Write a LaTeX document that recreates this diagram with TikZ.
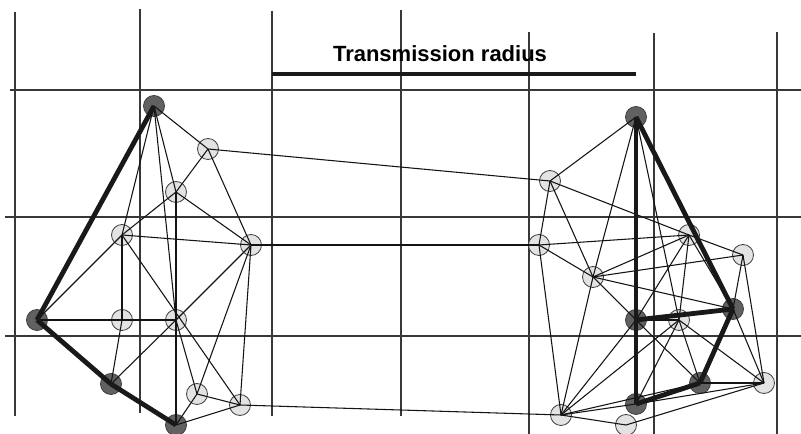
\documentclass[tikz,border=0pt]{standalone}
\usepackage{fontspec}
\setmainfont{Liberation Sans}
\begin{document}
\begin{tikzpicture}[x=0.75pt,y=-0.75pt,
  gridline/.style={draw=black!78, line width=0.95pt},
  lnode/.style={circle, draw=black!75, line width=0.6pt, fill=black!11, minimum size=15.75pt, inner sep=0pt},
  dnode/.style={circle, draw=black!75, line width=0.6pt, fill=black!62, minimum size=15.75pt, inner sep=0pt},
  link/.style={draw=black!92, line width=0.8pt},
  backbone/.style={draw=black!90, line width=3.6pt},
  radiusbar/.style={draw=black!90, line width=3.5pt},
]
\fill[white] (0,0) rectangle (801,434);
\path[use as bounding box] (0,0) rectangle (801,434);

% grid
\draw[gridline] (15,12) -- (15,416);
\draw[gridline] (140,9) -- (140,413);
\draw[gridline] (272,11) -- (272,416);
\draw[gridline] (401,10) -- (401,416);
\draw[gridline] (529,32) -- (529,434);
\draw[gridline] (654,33) -- (654,434);
\draw[gridline] (777,32) -- (777,434);
\draw[gridline] (10,90) -- (801,90);
\draw[gridline] (5,217) -- (801,217);
\draw[gridline] (5,336) -- (801,336);

% title
\node[font=\bfseries\fontsize{16.5}{18}\selectfont, anchor=base, inner sep=0pt] (title) at (440,61.5) {Transmission radius};
\coordinate (barL) at (272,74);
\coordinate (barR) at (636,74);
\draw[radiusbar] (barL) -- (barR);

% left cluster nodes
\node[dnode] (A) at (154,106) {};
\node[lnode] (B) at (208,149) {};
\node[lnode] (C) at (176,192) {};
\node[lnode] (D) at (122,235) {};
\node[lnode] (E) at (251,245) {};
\node[dnode] (F) at (37,320) {};
\node[lnode] (G) at (122,320) {};
\node[lnode] (H) at (176,320) {};
\node[dnode] (I) at (111,384) {};
\node[lnode] (J) at (197,394) {};
\node[lnode] (K) at (240,405) {};
\node[dnode] (L) at (176,425) {};

% right cluster nodes
\node[dnode] (R1) at (636,117) {};
\node[lnode] (R2) at (550,181) {};
\node[lnode] (R3) at (689,235) {};
\node[lnode] (R4) at (539,245) {};
\node[lnode] (R5) at (743,255) {};
\node[lnode] (R6) at (593,277) {};
\node[dnode] (R7) at (733,309) {};
\node[dnode] (R8) at (636,320) {};
\node[lnode] (R9) at (679,320) {};
\node[dnode] (R10) at (700,383) {};
\node[lnode] (R11) at (764,383) {};
\node[dnode] (R12) at (636,404) {};
\node[lnode] (R13) at (561,415) {};
\node[lnode] (R14) at (626,425) {};

% left thin links
\foreach \a/\b in {A/B,A/C,A/D,A/H,B/C,B/E,C/D,C/E,C/H,D/E,D/G,D/F,D/K,F/G,G/H,G/I,I/H,H/E,H/L,H/J,E/J,E/K,J/K,J/L,K/L}
  \draw[link] (\a.center) -- (\b.center);
% bridges
\draw[link] (B.center) -- (R2.center);
\draw[link] (E.center) -- (R4.center);
\draw[link] (K.center) -- (R13.center);

% right thin links
\foreach \a/\b in {R1/R2,R1/R6,R1/R9,R2/R4,R2/R6,R2/R3,R3/R5,R3/R4,R3/R6,R3/R8,R3/R9,R3/R7,R4/R6,R4/R13,R6/R5,R6/R7,R6/R8,R6/R13,R8/R9,R8/R10,R8/R13,R9/R13,R9/R12,R9/R10,R9/R11,R7/R5,R7/R11,R5/R11,R10/R11,R13/R12,R13/R10,R12/R11,R13/R14,R14/R11}
  \draw[link] (\a.center) -- (\b.center);

% backbone
\draw[backbone] (A.center) -- (F.center);
\draw[backbone] (F.center) -- (I.center);
\draw[backbone] (I.center) -- (L.center);
\draw[backbone] (R1.center) -- (R12.center);
\draw[backbone] (R1.center) -- (R7.center);
\draw[backbone] (R8.center) -- (R7.center);
\draw[backbone] (R7.center) -- (R10.center);
\draw[backbone] (R10.center) -- (R12.center);
\end{tikzpicture}
\end{document}
